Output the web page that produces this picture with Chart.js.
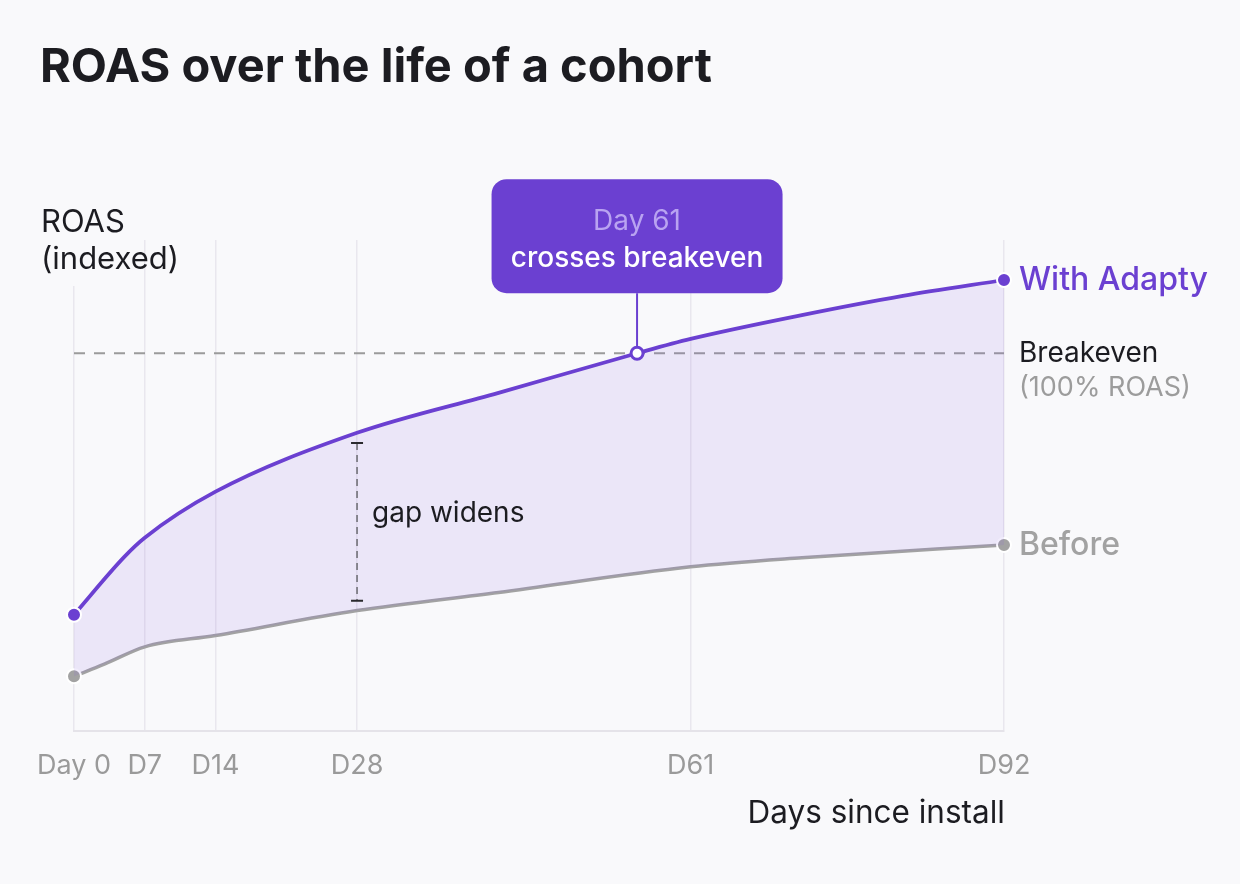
<!DOCTYPE html>
<html>
<head>
<meta charset="utf-8">
<title>ROAS over the life of a cohort</title>
<script src="https://cdn.jsdelivr.net/npm/chart.js@4/dist/chart.umd.min.js"></script>
<style>
  html, body { margin: 0; padding: 0; background: #f9f9fb; }
  #wrap { width: 1240px; height: 884px; }
</style>
</head>
<body>
<div id="wrap"><canvas id="roasChart" width="1240" height="884"></canvas></div>
<script>
// x axis ticks (days since install)
const tickDays = [0, 7, 14, 28, 61, 92];
const tickLabels = ['Day 0', 'D7', 'D14', 'D28', 'D61', 'D92'];

// ROAS, indexed (100 = breakeven)
const adaptyDays = [0, 5, 7, 14, 28, 42, 55.7, 61, 72, 82, 92];
const adaptyRoas = [30.7, 46.1, 51.1, 63.3, 78.9, 89.5, 100, 103.8, 110.1, 115.2, 119.4];

const beforeDays = [0, 3, 7, 14, 28, 42, 61, 72, 92];
const beforeRoas = [14.4, 17.6, 22.2, 25.2, 31.8, 36.6, 43.4, 45.8, 49.2];

const breakeven = 100;
const crossDay = 55.7;
const gapDay = 28;
const gapRange = [76.2, 34.4];

const purple = '#6b40d1';
const gray = '#a2a2a2';
const ink = '#1c1c21';
const bg = '#f9f9fb';
const font = (size, weight) => `${weight || 400} ${size}px Inter, "Noto Sans", sans-serif`;

const toPoints = (xs, ys) => xs.map((d, i) => ({ x: d, y: ys[i] }));
const endsOnly = (n, r) => ctx => (ctx.dataIndex === 0 || ctx.dataIndex === n - 1) ? r : 0;

const annotations = {
  id: 'annotations',
  beforeDatasetsDraw(chart) {
    const { ctx, chartArea: a, scales: { x, y } } = chart;
    ctx.save();
    // the Day 0 grid line stops below the axis label
    ctx.fillStyle = bg;
    ctx.fillRect(x.getPixelForValue(0) - 3, a.top - 1, 6, 47);
    // breakeven line
    const by = y.getPixelForValue(breakeven);
    ctx.strokeStyle = '#9b9b9b';
    ctx.lineWidth = 2;
    ctx.setLineDash([11, 9]);
    ctx.beginPath();
    ctx.moveTo(a.left, by);
    ctx.lineTo(a.right, by);
    ctx.stroke();
    ctx.restore();
  },
  afterDraw(chart) {
    const { ctx, chartArea: a, scales: { x, y } } = chart;
    ctx.save();

    // title
    ctx.fillStyle = ink;
    ctx.textAlign = 'left';
    ctx.textBaseline = 'alphabetic';
    ctx.font = font(47, 700);
    ctx.fillText('ROAS over the life of a cohort', 40, 82);

    // axis labels
    ctx.font = font(31);
    ctx.fillText('ROAS', 41, 232);
    ctx.fillText('(indexed)', 41, 269);
    ctx.textAlign = 'right';
    ctx.font = font(31.5);
    ctx.fillText('Days since install', a.right + 1, 823);

    // series labels on the right
    const lx = a.right + 15;
    ctx.textAlign = 'left';
    ctx.textBaseline = 'middle';
    ctx.font = font(32, 500);
    ctx.fillStyle = purple;
    ctx.fillText('With Adapty', lx, y.getPixelForValue(adaptyRoas[adaptyRoas.length - 1]));
    ctx.fillStyle = gray;
    ctx.fillText('Before', lx, y.getPixelForValue(beforeRoas[beforeRoas.length - 1]));

    const by = y.getPixelForValue(breakeven);
    ctx.font = font(28);
    ctx.fillStyle = ink;
    ctx.fillText('Breakeven', lx, by);
    ctx.font = font(27);
    ctx.fillStyle = '#9c9c9c';
    ctx.fillText('(100% ROAS)', lx, by + 35);

    // gap widens
    const gx = x.getPixelForValue(gapDay);
    const gt = y.getPixelForValue(gapRange[0]);
    const gb = y.getPixelForValue(gapRange[1]);
    ctx.strokeStyle = '#6a6a70';
    ctx.lineWidth = 1.5;
    ctx.setLineDash([7, 5]);
    ctx.beginPath();
    ctx.moveTo(gx, gt);
    ctx.lineTo(gx, gb);
    ctx.stroke();
    ctx.setLineDash([]);
    ctx.strokeStyle = '#2a2a2e';
    ctx.lineWidth = 2;
    ctx.beginPath();
    ctx.moveTo(gx - 6, gt); ctx.lineTo(gx + 6, gt);
    ctx.moveTo(gx - 6, gb); ctx.lineTo(gx + 6, gb);
    ctx.stroke();
    ctx.fillStyle = ink;
    ctx.font = font(28);
    ctx.textBaseline = 'alphabetic';
    ctx.fillText('gap widens', gx + 15, (gt + gb) / 2);

    // callout at breakeven crossing
    const cx = x.getPixelForValue(crossDay);
    const bw = 291, bh = 114;
    const boxBottom = by - 60, boxTop = boxBottom - bh;
    ctx.strokeStyle = purple;
    ctx.lineWidth = 2;
    ctx.beginPath();
    ctx.moveTo(cx, boxBottom);
    ctx.lineTo(cx, by - 7);
    ctx.stroke();
    ctx.fillStyle = purple;
    ctx.beginPath();
    ctx.roundRect(cx - bw / 2, boxTop, bw, bh, 15);
    ctx.fill();
    ctx.textAlign = 'center';
    ctx.font = font(28);
    ctx.fillStyle = '#b9a3f1';
    ctx.fillText('Day 61', cx, boxTop + 51);
    ctx.font = font(28, 500);
    ctx.fillStyle = '#ffffff';
    ctx.fillText('crosses breakeven', cx, boxTop + 88);

    ctx.restore();
  }
};

new Chart(document.getElementById('roasChart'), {
  type: 'line',
  data: {
    datasets: [{
      label: 'With Adapty',
      data: toPoints(adaptyDays, adaptyRoas),
      borderColor: purple,
      borderWidth: 3.75,
      backgroundColor: 'rgba(126, 78, 226, 0.11)',
      fill: '+1',
      cubicInterpolationMode: 'monotone',
      pointRadius: endsOnly(adaptyDays.length, 7),
      pointBackgroundColor: purple,
      pointBorderColor: '#ffffff',
      pointBorderWidth: 2,
      clip: false,
      order: 1
    }, {
      label: 'Before',
      data: toPoints(beforeDays, beforeRoas),
      borderColor: gray,
      borderWidth: 3.5,
      fill: false,
      cubicInterpolationMode: 'monotone',
      pointRadius: endsOnly(beforeDays.length, 7),
      pointBackgroundColor: gray,
      pointBorderColor: '#ffffff',
      pointBorderWidth: 2,
      clip: false,
      order: 2
    }, {
      label: 'Breakeven crossing',
      data: [{ x: crossDay, y: breakeven }],
      showLine: false,
      pointRadius: 6,
      pointBackgroundColor: '#ffffff',
      pointBorderColor: purple,
      pointBorderWidth: 3,
      clip: false,
      order: 0
    }]
  },
  options: {
    responsive: false,
    animation: false,
    events: [],
    layout: { padding: { left: 74, right: 236, top: 240, bottom: 83 } },
    plugins: { legend: { display: false }, tooltip: { enabled: false } },
    scales: {
      x: {
        type: 'linear',
        min: 0,
        max: 92,
        afterBuildTicks: scale => { scale.ticks = tickDays.map(v => ({ value: v })); },
        ticks: {
          autoSkip: false,
          maxRotation: 0,
          padding: 19,
          color: '#9a9a9a',
          font: { family: 'Inter, "Noto Sans", sans-serif', size: 27 },
          callback: v => tickLabels[tickDays.indexOf(v)]
        },
        grid: { color: '#e9e7ee', lineWidth: 1.5, drawTicks: false },
        border: { display: true, color: '#e5e3e9', width: 2 }
      },
      y: { display: false, min: 0, max: 130 }
    }
  },
  plugins: [annotations]
});
</script>
</body>
</html>
